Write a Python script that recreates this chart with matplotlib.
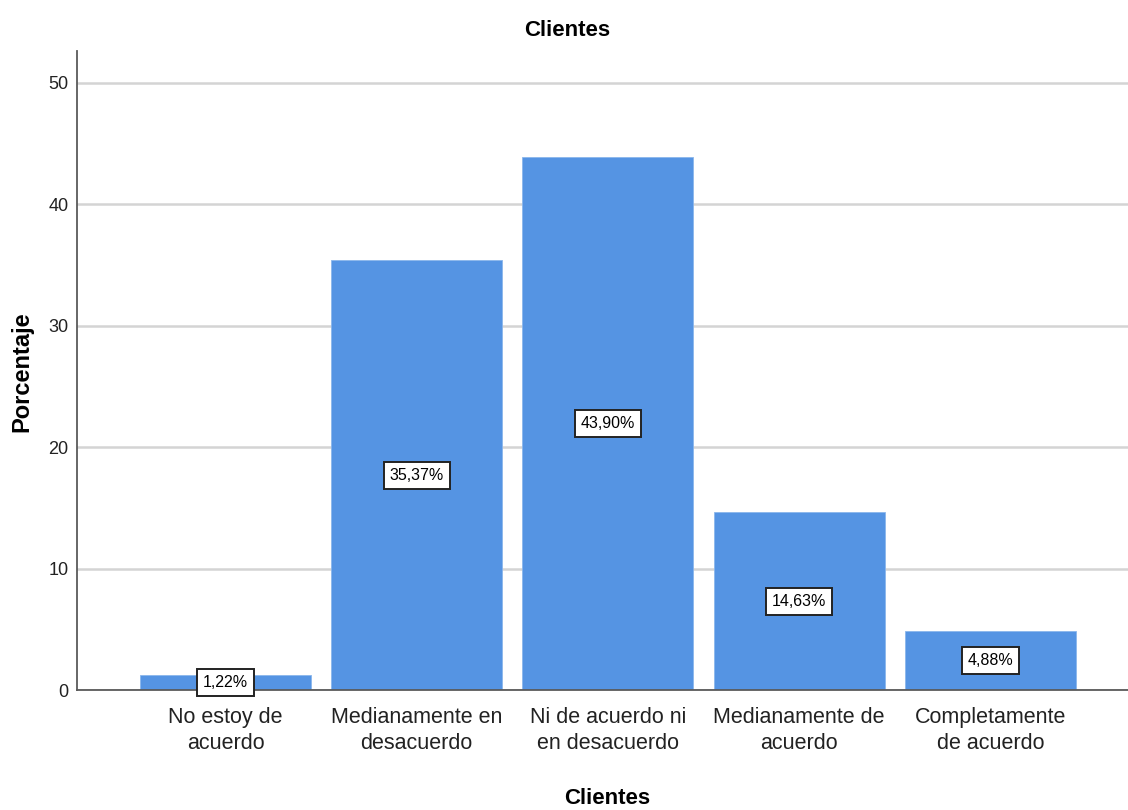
import matplotlib
matplotlib.use("Agg")
import matplotlib.pyplot as plt

categories = ["No estoy de\nacuerdo", "Medianamente en\ndesacuerdo", "Ni de acuerdo ni\nen desacuerdo",
              "Medianamente de\nacuerdo", "Completamente\nde acuerdo"]
values = [1.22, 35.37, 43.90, 14.63, 4.88]
yticks = [0, 10, 20, 30, 40, 50]
title = "Clientes"
xlabel = "Clientes"
ylabel = "Porcentaje"

plt.rcParams['font.family'] = ['Liberation Sans', 'DejaVu Sans']

fig = plt.figure(figsize=(11.28, 8.10), dpi=100)
ax = fig.add_axes([0.0683, 0.148, 0.9317, 0.789])

x = list(range(len(values)))
ax.bar(x, values, width=0.894, color="#5594E3", edgecolor="#8ab6ec", linewidth=0.6, zorder=2)
for xi, v in zip(x, values):
    ax.text(xi, v / 2, f"{v:.2f}%".replace(".", ","), ha="center", va="center", fontsize=11.5,
            color="black", zorder=3,
            bbox=dict(boxstyle="square,pad=0.38", facecolor="white", edgecolor="#222222", linewidth=1.4))

ax.set_xlim(-0.776, 4.719)
ax.set_ylim(0, 52.6)
ax.set_yticks(yticks)
ax.set_xticks(x)
ax.set_xticklabels(categories, fontsize=15.5, color="#222222", linespacing=1.3)
ax.tick_params(axis="y", length=0, labelsize=13, pad=6, colors="#222222")
ax.tick_params(axis="x", length=0, pad=12)
ax.grid(axis="y", color="#d4d4d4", linewidth=1.8, zorder=0)
ax.set_axisbelow(True)
for s in ["top", "right"]:
    ax.spines[s].set_visible(False)
for s in ["left", "bottom"]:
    ax.spines[s].set_color("#5a5a5a")
    ax.spines[s].set_linewidth(1.3)

fig.text(0.503, 0.962, title, fontsize=16, fontweight="bold", ha="center", va="center")
fig.text(0.538, 1 - 798 / 810, xlabel, fontsize=16, fontweight="bold", ha="center", va="center")
fig.text(22 / 1128, 1 - 372 / 810, ylabel, fontsize=17, fontweight="bold", ha="center", va="center",
         rotation=90)

fig.savefig("out.png", dpi=100, facecolor="white")
